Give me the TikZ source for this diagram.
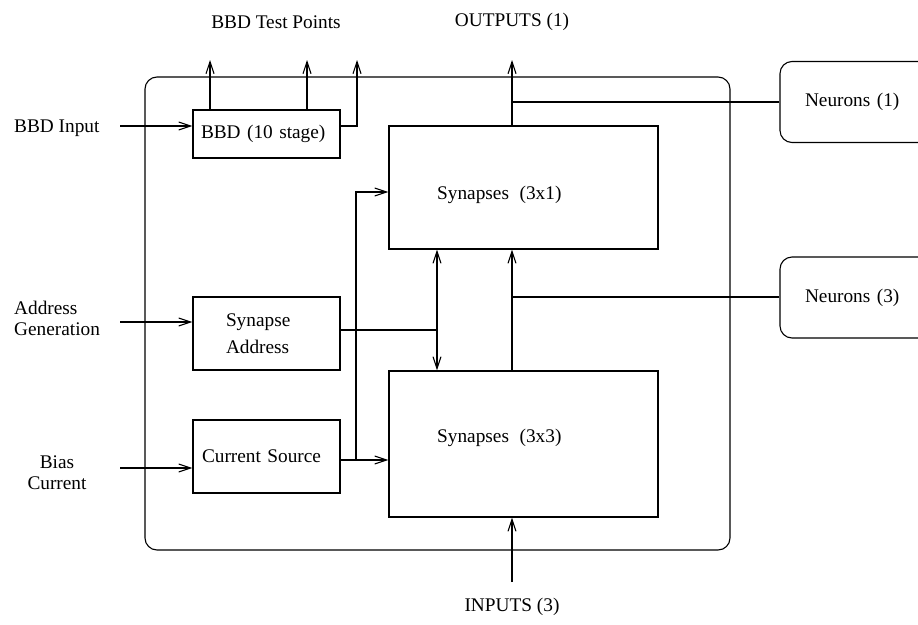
\documentclass[tikz,border=0pt]{standalone}
\usepackage{fontspec}
\setmainfont{Liberation Serif}
\usetikzlibrary{arrows.meta}
\begin{document}
\begin{tikzpicture}[x=1pt,y=-1pt,
  every node/.style={font=\fontsize{19.3}{21}\selectfont, inner sep=0pt},
  wire/.style={line width=1.1pt},
  barb/.style={Straight Barb[length=12pt,width=8pt,line width=1.1pt]},
  tip/.style={wire,-{Straight Barb[length=12pt,width=8pt,line width=1.1pt]}},
  dtip/.style={wire,{Straight Barb[length=12pt,width=8pt,line width=1.1pt]}-{Straight Barb[length=12pt,width=8pt,line width=1.1pt]}},
  blk/.style={draw, line width=1.1pt, align=left, minimum width=147pt},
  synbox/.style={draw, line width=1.1pt, minimum width=269pt},
  neubox/.style={draw, line width=1.1pt, rounded corners=12pt, align=left,
    inner xsep=25pt, text width=130pt, minimum height=81pt},
]
\clip (0,0) rectangle (918,624);

% chip outline
\node[draw, line width=1.1pt, rounded corners=12pt,
      minimum width=585pt, minimum height=473pt] (chip) at (437.5,313.5) {};

% on-chip blocks
\node[blk, inner xsep=8pt, text width=131pt, minimum height=48pt] (bbd) at (266.5,134) {BBD (10 stage)};
\node[blk, inner xsep=33pt, text width=81pt, minimum height=73pt] (addr) at (266.5,333.5) {Synapse\\[6pt]Address};
\node[blk, inner xsep=9pt, text width=129pt, minimum height=73pt] (cur) at (266.5,456.5) {Current Source};

\node[synbox, minimum height=123pt] (syn1) at (523.5,187.5) {};
\node[synbox, minimum height=146pt] (syn3) at (523.5,444) {};
\node[anchor=west] (syn1txt) at (437,195) {Synapses\hspace{0.55em}(3x1)};
\node[anchor=west] (syn3txt) at (437,438) {Synapses\hspace{0.55em}(3x3)};

% off-chip neurons
\node[neubox] (neu1) at (870,102) {Neurons (1)};
\node[neubox] (neu3) at (870,297.5) {Neurons (3)};

% external labels
\node (tptxt) at (276,22) {BBD Test Points};
\node (outtxt) at (512,22) {OUTPUTS (1)};
\node (intxt) at (512,607) {INPUTS (3)};
\node[anchor=west] (bbdintxt) at (14,128) {BBD Input};
\node[anchor=west, align=left] (addrtxt) at (14,318.5) {Address\\Generation};
\node[align=center] (biastxt) at (57,473) {Bias\\Current};

% connection points
\coordinate (bbdsrc) at (120,126);
\coordinate (addrsrc) at (120,322);
\coordinate (biassrc) at (120,468);
\coordinate (tp1) at (210,60);
\coordinate (tp2) at (307,60);
\coordinate (tp3) at (357,60);
\coordinate (tp3turn) at (357,126);
\coordinate (outtip) at (512,60);
\coordinate (n1tap) at (512,102);
\coordinate (n3tap) at (512,297);
\coordinate (bus) at (437,330);
\coordinate (curout) at (356,460);
\coordinate (curup) at (356,192);
\coordinate (insrc) at (512,582);

% inputs to the blocks
\draw[tip] (bbdsrc) -- (bbdsrc -| bbd.west);
\draw[tip] (addrsrc) -- (addrsrc -| addr.west);
\draw[tip] (biassrc) -- (biassrc -| cur.west);

% BBD test points
\draw[tip] (tp1 |- bbd.north) -- (tp1);
\draw[tip] (tp2 |- bbd.north) -- (tp2);
\draw[tip] (tp3turn -| bbd.east) -- (tp3turn) -- (tp3);

% outputs and neuron links
\draw[tip] (outtip |- syn1.north) -- (outtip);
\draw[wire] (n1tap) -- (n1tap -| neu1.west);
\draw[tip] (outtip |- syn3.north) -- (outtip |- syn1.south);
\draw[wire] (n3tap) -- (n3tap -| neu3.west);

% address bus
\draw[dtip] (bus |- syn1.south) -- (bus |- syn3.north);
\draw[wire] (bus -| addr.east) -- (bus);

% bias distribution
\draw[tip] (curout -| cur.east) -- (curout -| syn3.west);
\draw[tip] (curout) -- (curup) -- (curup -| syn1.west);

% inputs
\draw[tip] (insrc) -- (insrc |- syn3.south);
\end{tikzpicture}
\end{document}
